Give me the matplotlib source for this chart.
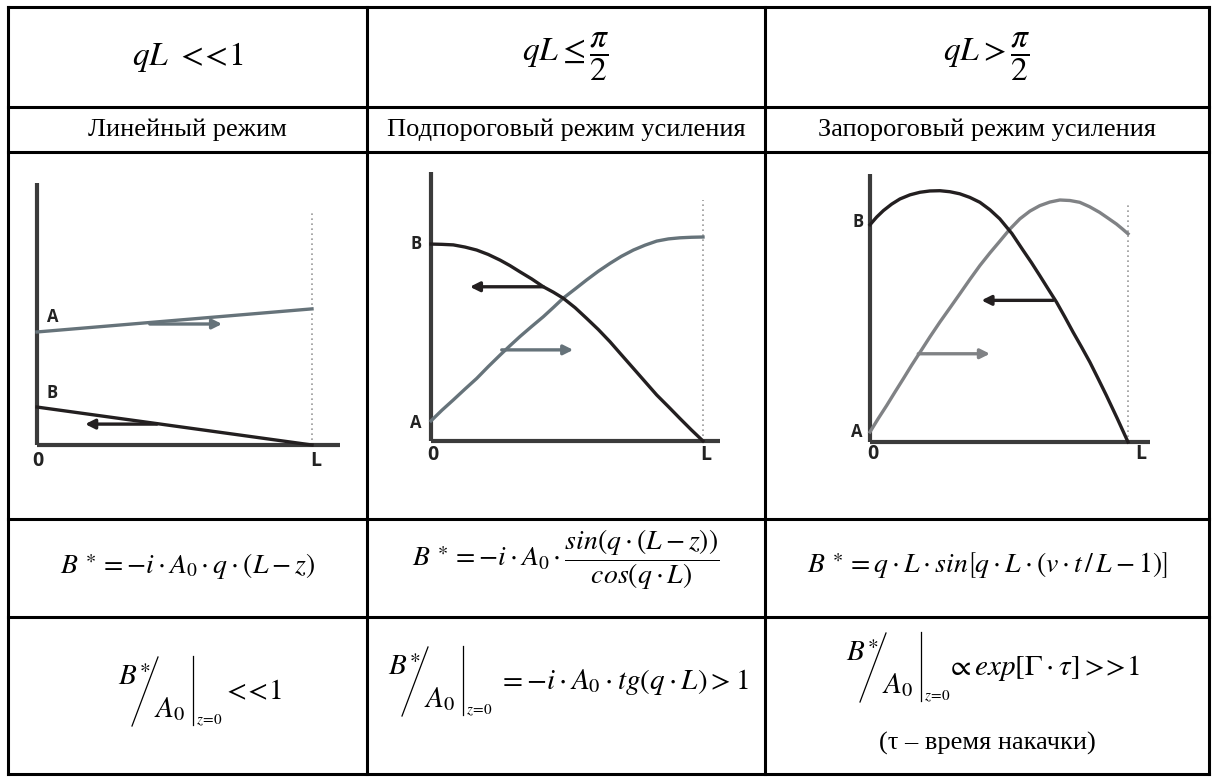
import matplotlib
matplotlib.use('Agg')
import matplotlib.pyplot as plt

plt.rcParams['mathtext.fontset'] = 'stix'
plt.rcParams['font.family'] = ['Liberation Serif', 'DejaVu Serif']

# --- data (z in units of L, amplitude in units of L-length) ---
# linear regime
lin_z = [0.0, 1.0]
lin_A = [0.411, 0.495]
lin_B = [0.138, 0.0]

# sub-threshold regime
sub_z = [0.0, 0.04, 0.082, 0.125, 0.168, 0.21, 0.254, 0.29, 0.327, 0.37, 0.413, 0.45, 0.486,
         0.53, 0.572, 0.615, 0.658, 0.70, 0.744, 0.787, 0.830, 0.873, 0.915, 0.957, 1.0]
sub_B = [0.724, 0.723, 0.721, 0.713, 0.702, 0.686, 0.665, 0.645, 0.622, 0.596, 0.567, 0.547,
         0.525, 0.490, 0.451, 0.410, 0.365, 0.317, 0.267, 0.218, 0.169, 0.126, 0.083, 0.041, 0.0]
sub_A = [0.074, 0.113, 0.151, 0.191, 0.230, 0.273, 0.316, 0.350, 0.384, 0.421, 0.457, 0.491,
         0.525, 0.559, 0.592, 0.624, 0.653, 0.679, 0.702, 0.720, 0.735, 0.743, 0.747, 0.749, 0.750]

# above-threshold regime
abv_zB = [0.0, 0.026, 0.052, 0.084, 0.116, 0.155, 0.194, 0.232, 0.271, 0.31, 0.348, 0.387,
          0.426, 0.465, 0.503, 0.55, 0.594, 0.626, 0.658, 0.69, 0.723, 0.755, 0.787, 0.82,
          0.852, 0.884, 0.916, 0.958, 1.0]
abv_B = [0.842, 0.872, 0.897, 0.922, 0.942, 0.958, 0.968, 0.973, 0.974, 0.970, 0.962, 0.948,
         0.929, 0.900, 0.865, 0.808, 0.742, 0.695, 0.645, 0.594, 0.542, 0.485, 0.426, 0.368,
         0.310, 0.246, 0.181, 0.092, 0.0]
abv_zA = [0.0, 0.032, 0.065, 0.097, 0.129, 0.161, 0.194, 0.232, 0.271, 0.31, 0.348, 0.387,
          0.426, 0.465, 0.503, 0.542, 0.581, 0.62, 0.658, 0.697, 0.736, 0.775, 0.813, 0.851,
          0.890, 0.922, 0.955, 0.978, 1.0]
abv_A = [0.039, 0.091, 0.142, 0.194, 0.245, 0.297, 0.348, 0.407, 0.465, 0.520, 0.574, 0.630,
         0.684, 0.733, 0.778, 0.825, 0.865, 0.895, 0.916, 0.930, 0.938, 0.936, 0.929, 0.912,
         0.890, 0.868, 0.845, 0.826, 0.807]

headers = [r'$qL\ <\!\!<\!1$', r'$qL \leq \dfrac{\pi}{2}$', r'$qL > \dfrac{\pi}{2}$']
regimes = ['Линейный режим', 'Подпороговый режим усиления', 'Запороговый режим усиления']
solutions = [
    r'$B^{\,\ast} = -i \cdot A_0 \cdot q \cdot (L - z)$',
    r'$B^{\,\ast} = -i \cdot A_0 \cdot \dfrac{\mathit{sin}(q \cdot (L - z))}{\mathit{cos}(q \cdot L)}$',
    r'$B^{\,\ast} = q \cdot L \cdot \mathit{sin}\left[q \cdot L \cdot (v \cdot t\,/\,L - 1)\right]$',
]
gain_tails = [
    r'$<\!\!<\!1$',
    r'$= -i \cdot A_0 \cdot \mathit{tg}\left(q \cdot L\right) > 1$',
    r'$\propto \mathit{exp}\left[\Gamma \cdot \tau\right] >\!\!>\!1$',
]
note = '(τ – время накачки)'

W, H = 1216, 779
fig = plt.figure(figsize=(W / 100, H / 100), dpi=100)

# table grid in pixel coordinates
tab = fig.add_axes([0, 0, 1, 1])
tab.set_xlim(0, W)
tab.set_ylim(H, 0)
tab.axis('off')
col_x = [8, 367, 765, 1209]
row_y = [7, 107, 152, 519, 617, 774]
for y in row_y:
    tab.plot([col_x[0], col_x[-1]], [y, y], color='black', lw=2.2, solid_capstyle='projecting')
for x in col_x:
    tab.plot([x, x], [row_y[0], row_y[-1]], color='black', lw=2.2, solid_capstyle='projecting')

centers = [(col_x[i] + col_x[i + 1]) / 2 for i in range(3)]
for i, c in enumerate(centers):
    tab.text(c, 57, headers[i], fontsize=24, ha='center', va='center')
    tab.text(c, 130, regimes[i], fontsize=19, ha='center', va='center')
sol_y = [566, 560, 565]
for i, c in enumerate(centers):
    tab.text(c, sol_y[i], solutions[i], fontsize=20, ha='center', va='center')


def ratio_at_zero(x0, yc, tail_dx, tail):
    # B* / A0 |_{z=0} written the way the source table sets it
    tab.text(x0, yc - 14, r'$B^{\ast}$', fontsize=21, ha='left', va='center')
    tab.plot([x0 + 14, x0 + 40], [yc + 34, yc - 35], color='black', lw=0.9)
    tab.text(x0 + 36, yc + 17, r'$A_0$', fontsize=21, ha='left', va='center')
    tab.plot([x0 + 75, x0 + 75], [yc - 36, yc + 33], color='black', lw=0.9)
    tab.text(x0 + 78, yc + 28, r'$z\!=\!0$', fontsize=11, ha='left', va='center')
    tab.text(x0 + tail_dx, yc, tail, fontsize=21, ha='left', va='center')


ratio_at_zero(118, 692, 104, gain_tails[0])
ratio_at_zero(388, 682, 110, gain_tails[1])
ratio_at_zero(846, 668, 100, gain_tails[2])
tab.text(centers[2], 743, note, fontsize=19, ha='center', va='center')

DARK = '#231f20'
GREY = '#66737a'
GREY3 = '#808285'
AXIS = '#3b3b3b'
label_font = dict(family='Open Sans', fontweight='bold', color='#222222')


def panel(ox, oy, lpx, ytop, xend, dot_top):
    ax = fig.add_axes([(ox - 0.2 * lpx) / W, 1 - (oy + 0.2 * lpx) / H,
                       1.45 * lpx / W, 1.35 * lpx / H])
    ax.set_xlim(-0.2, 1.25)
    ax.set_ylim(-0.2, 1.15)
    ax.axis('off')
    ax.patch.set_alpha(0)
    ax.plot([1, 1], [0, dot_top], color='#9a9a9a', lw=1.2, ls=(0, (1, 2)))
    ax.plot([0, 0], [0, ytop], color=AXIS, lw=3, solid_capstyle='butt')
    ax.plot([0, xend], [0, 0], color=AXIS, lw=3, solid_capstyle='butt')
    return ax


def arrow(ax, start, end, color):
    ax.annotate('', xy=end, xytext=start,
                arrowprops=dict(arrowstyle='-|>', color=color, lw=2.4,
                                mutation_scale=14, shrinkA=0, shrinkB=0))


# panel 1
ax1 = panel(37, 445, 275, 0.953, 1.10, 0.847)
ax1.plot(lin_z, lin_A, color=GREY, lw=2.4)
ax1.plot(lin_z, lin_B, color=DARK, lw=2.4)
arrow(ax1, (0.41, 0.44), (0.673, 0.44), GREY)
arrow(ax1, (0.436, 0.076), (0.175, 0.076), DARK)
ax1.text(0.058, 0.465, 'A', fontsize=12, ha='center', va='center', **label_font)
ax1.text(0.055, 0.189, 'B', fontsize=12, ha='center', va='center', **label_font)
ax1.text(0.004, -0.058, '0', fontsize=14, ha='center', va='center', **label_font)
ax1.text(1.012, -0.058, 'L', fontsize=14, ha='center', va='center', **label_font)

# panel 2
ax2 = panel(431, 441, 272, 0.99, 1.063, 0.886)
ax2.plot(sub_z, sub_A, color=GREY, lw=2.4)
ax2.plot(sub_z, sub_B, color=DARK, lw=2.4)
arrow(ax2, (0.413, 0.567), (0.143, 0.567), DARK)
arrow(ax2, (0.26, 0.335), (0.523, 0.335), GREY)
ax2.text(-0.055, 0.724, 'B', fontsize=12, ha='center', va='center', **label_font)
ax2.text(-0.055, 0.066, 'A', fontsize=12, ha='center', va='center', **label_font)
ax2.text(0.007, -0.052, '0', fontsize=14, ha='center', va='center', **label_font)
ax2.text(1.01, -0.052, 'L', fontsize=14, ha='center', va='center', **label_font)

# panel 3
ax3 = panel(870, 442, 258, 1.039, 1.084, 0.929)
ax3.plot(abv_zA, abv_A, color=GREY3, lw=2.4)
ax3.plot(abv_zB, abv_B, color=DARK, lw=2.4)
arrow(ax3, (0.710, 0.549), (0.432, 0.549), DARK)
arrow(ax3, (0.187, 0.342), (0.465, 0.342), GREY3)
ax3.text(-0.047, 0.852, 'B', fontsize=12, ha='center', va='center', **label_font)
ax3.text(-0.05, 0.04, 'A', fontsize=12, ha='center', va='center', **label_font)
ax3.text(0.012, -0.048, '0', fontsize=14, ha='center', va='center', **label_font)
ax3.text(1.05, -0.048, 'L', fontsize=14, ha='center', va='center', **label_font)

fig.savefig('out.png', dpi=100)
